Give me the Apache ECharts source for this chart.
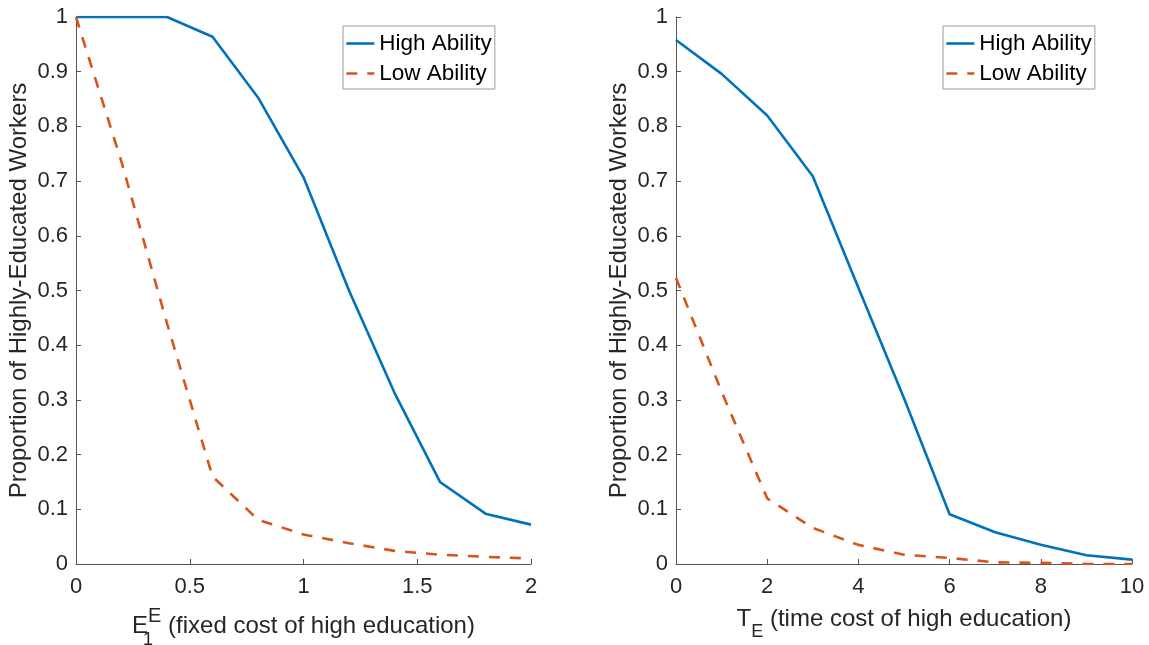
<!DOCTYPE html>
<html>
<head>
<meta charset="utf-8">
<script src="https://cdn.jsdelivr.net/npm/echarts@6/dist/echarts.min.js"></script>
<style>
html,body{margin:0;padding:0;background:#fff;}
#c{width:1149px;height:645px;}
</style>
</head>
<body>
<div id="c"></div>
<script>
// ---- data ----
const seriesNames = ['High Ability', 'Low Ability'];
const xFixedCost = [0, 0.2, 0.4, 0.6, 0.8, 1.0, 1.2, 1.4, 1.6, 1.8, 2.0];
const highFixedCost = [1, 1, 1, 0.964, 0.853, 0.707, 0.50, 0.313, 0.150, 0.092, 0.072];
const lowFixedCost = [1, 0.735, 0.44, 0.16, 0.081, 0.054, 0.038, 0.024, 0.017, 0.013, 0.010];
const xTimeCost = [0, 1, 2, 3, 4, 5, 6, 7, 8, 9, 10];
const highTimeCost = [0.958, 0.896, 0.820, 0.709, 0.505, 0.303, 0.091, 0.058, 0.035, 0.016, 0.008];
const lowTimeCost = [0.523, 0.315, 0.12, 0.066, 0.035, 0.017, 0.011, 0.003, 0.002, 0.0, 0.0];
const yTitle = 'Proportion of Highly-Educated Workers';
const xTitleLeft = '{m|E}{sb|1}{sp|E}{m| (fixed cost of high education)}';
const xTitleRight = '{m|T}{sb|E}{m| (time cost of high education)}';

const FONT = '"Liberation Sans", Arial, Helvetica, sans-serif';
const TXT = '#262626';
const AX = '#555555';
const BLUE = '#0072BD';
const RED = '#D95319';
const LW = 2.6;
const DASH = [11, 10];

const pair = (xs, ys) => xs.map((x, i) => [x, ys[i]]);

function xAxisCfg(gridIndex, max, interval, name, rich, gap) {
  return {
    type: 'value', gridIndex, min: 0, max, interval,
    name, nameLocation: 'middle', nameGap: gap,
    nameTextStyle: { fontFamily: FONT, fontSize: 24, color: TXT, rich },
    axisLine: { show: true, onZero: false, lineStyle: { color: AX, width: 1 } },
    axisTick: { show: true, inside: true, length: 5, lineStyle: { color: AX } },
    axisLabel: { fontFamily: FONT, fontSize: 22, color: TXT, margin: 12 },
    splitLine: { show: false }
  };
}
function yAxisCfg(gridIndex) {
  return {
    type: 'value', gridIndex, min: 0, max: 1, interval: 0.1,
    name: yTitle, nameLocation: 'middle', nameGap: 45, nameRotate: 90,
    nameTextStyle: { fontFamily: FONT, fontSize: 24, color: TXT },
    axisLine: { show: true, onZero: false, lineStyle: { color: AX, width: 1 } },
    axisTick: { show: true, inside: true, length: 5, lineStyle: { color: AX } },
    axisLabel: { fontFamily: FONT, fontSize: 22, color: TXT, margin: 8 },
    splitLine: { show: false }
  };
}
function lineSeries(name, idx, data, color, dashed) {
  return {
    name, type: 'line', xAxisIndex: idx, yAxisIndex: idx, data,
    symbol: 'none', silent: true, animation: false,
    lineStyle: { color, width: LW, type: dashed ? DASH : 'solid' },
    itemStyle: { color }
  };
}
function legendCfg(left) {
  return {
    data: seriesNames, orient: 'vertical', left, top: 26,
    itemWidth: 28, itemHeight: 14, itemGap: 7,
    padding: [6, 3, 4, 2],
    borderColor: '#9a9a9a', borderWidth: 1, backgroundColor: '#fff',
    textStyle: { fontFamily: FONT, fontSize: 22.5, color: '#000' },
    itemStyle: { opacity: 0 },
    lineStyle: { width: LW },
    selectedMode: false
  };
}

const richLeft = {
  m: { fontFamily: FONT, fontSize: 24, color: TXT },
  sb: { fontFamily: FONT, fontSize: 18, color: TXT, padding: [28, 0, 0, 0], width: 0 },
  sp: { fontFamily: FONT, fontSize: 20, color: TXT, padding: [0, 0, 19, 0] }
};
const richRight = {
  m: { fontFamily: FONT, fontSize: 24, color: TXT },
  sb: { fontFamily: FONT, fontSize: 18, color: TXT, padding: [26, 0, 0, 0] }
};

const chart = echarts.init(document.getElementById('c'), null, { renderer: 'canvas' });
chart.setOption({
  backgroundColor: '#fff',
  animation: false,
  grid: [
    { left: 76, top: 17, width: 455, height: 547, outerBoundsMode: 'none', containLabel: false },
    { left: 676, top: 17, width: 456, height: 547, outerBoundsMode: 'none', containLabel: false }
  ],
  legend: [legendCfg(943 - 600), legendCfg(943)],
  xAxis: [
    xAxisCfg(0, 2, 0.5, xTitleLeft, richLeft, 39),
    xAxisCfg(1, 10, 2, xTitleRight, richRight, 33)
  ],
  yAxis: [yAxisCfg(0), yAxisCfg(1)],
  series: [
    lineSeries(seriesNames[0], 0, pair(xFixedCost, highFixedCost), BLUE, false),
    lineSeries(seriesNames[1], 0, pair(xFixedCost, lowFixedCost), RED, true),
    lineSeries(seriesNames[0], 1, pair(xTimeCost, highTimeCost), BLUE, false),
    lineSeries(seriesNames[1], 1, pair(xTimeCost, lowTimeCost), RED, true)
  ]
});
</script>
</body>
</html>
